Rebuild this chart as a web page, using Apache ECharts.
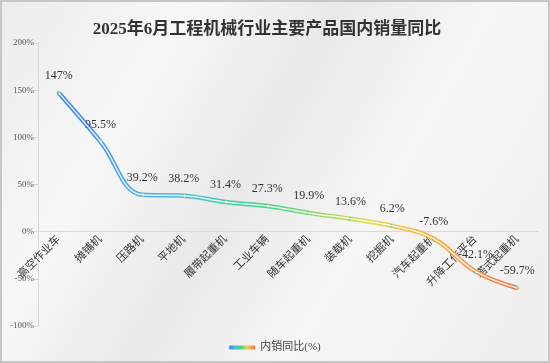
<!DOCTYPE html>
<html><head><meta charset="utf-8">
<script src="https://cdn.jsdelivr.net/npm/echarts@6/dist/echarts.min.js"></script>
<style>
html,body{margin:0;padding:0;}
#wrap{position:relative;width:550px;height:363px;background:linear-gradient(120deg,#ececec 0%,#f7f7f7 25%,#e9e9e9 45%,#f6f6f6 65%,#eeeeee 100%);}
#c{position:absolute;left:0;top:0;width:550px;height:363px;}
#frame{position:absolute;left:0;top:0;width:546px;height:359px;border:2px solid #c6c6c6;pointer-events:none;}
</style></head>
<body><div id="wrap"><div id="c"></div><div id="frame"></div></div>
<script>
const title = '2025年6月工程机械行业主要产品国内销量同比';
const categories = ['高空作业车','摊铺机','压路机','平地机','履带起重机','工业车辆','随车起重机','装载机','挖掘机','汽车起重机','升降工作平台','塔式起重机'];
const values = [147, 95.5, 39.2, 38.2, 31.4, 27.3, 19.9, 13.6, 6.2, -7.6, -42.1, -59.7];
const yTicks = [-100, -50, 0, 50, 100, 150, 200];
const seriesName = '内销同比(%)';

const font = "'Liberation Serif','Noto Sans CJK SC',serif";
const grad = new echarts.graphic.LinearGradient(0,0,1,0,[
  {offset:0,color:'#3f7ff0'},
  {offset:0.22,color:'#4fb6e6'},
  {offset:0.45,color:'#3fd68a'},
  {offset:0.68,color:'#e8d84a'},
  {offset:0.85,color:'#f8a23c'},
  {offset:1,color:'#f5704a'}
]);
const gridTop = 43, gridBottom = 37, H = 363;
const yMin = yTicks[0], yMax = yTicks[yTicks.length-1];
const plotH = H - gridTop - gridBottom;
const zeroOffset = -plotH * (0 - yMin) / (yMax - yMin);
const chart = echarts.init(document.getElementById('c'));
chart.setOption({
  backgroundColor:'transparent',
  title:{text:title,left:262,top:16,textAlign:'center',textStyle:{fontFamily:font,fontSize:17,fontWeight:'bold',color:'#333'}},
  grid:{left:38,right:12,top:gridTop,bottom:gridBottom,containLabel:false,outerBoundsMode:'none'},
  legend:{bottom:5,left:'center',data:[{name:seriesName,icon:'roundRect',itemStyle:{color:grad}}],itemWidth:26,itemHeight:4,itemGap:3,textStyle:{fontFamily:font,fontSize:11,color:'#444'}},
  xAxis:{type:'category',data:categories,boundaryGap:true,position:'bottom',offset:zeroOffset,
    axisLine:{onZero:false,lineStyle:{color:'#d8d8d8'}},axisTick:{lineStyle:{color:'#d8d8d8'}},
    axisLabel:{rotate:45,interval:0,fontFamily:font,fontSize:11,color:'#333',margin:6}},
  yAxis:{type:'value',min:yMin,max:yMax,interval:50,
    axisLine:{show:true,lineStyle:{color:'#d8d8d8'}},axisTick:{show:true,lineStyle:{color:'#d8d8d8'}},
    splitLine:{show:false},
    axisLabel:{formatter:'{value}%',fontFamily:font,fontSize:9,color:'#555',margin:4}},
  series:[
    {name:seriesName,type:'line',smooth:0.4,data:values,
     lineStyle:{width:4.5,color:grad},itemStyle:{color:grad},
     symbol:'circle',symbolSize:4,showSymbol:true,
     label:{show:true,position:'top',distance:9,formatter:p=>p.value+'%',fontFamily:font,fontSize:12,color:'#333'},
     z:2},
    {name:'_inner',type:'line',smooth:0.4,data:values,
     lineStyle:{width:1.5,color:'rgba(255,255,255,0.85)'},symbol:'none',silent:true,z:3}
  ]
});
</script></body></html>
